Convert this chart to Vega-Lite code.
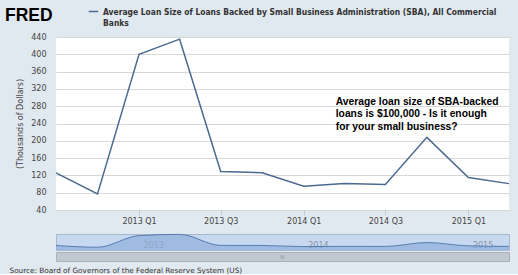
{
  "$schema": "https://vega.github.io/schema/vega-lite/v6.json",
  "background": "#e1e9f0",
  "padding": {"left": 5, "top": 6, "right": 8, "bottom": 0},
  "datasets": {
    "loans": [
      {"date": "2012-07-01", "value": 126},
      {"date": "2012-10-01", "value": 77},
      {"date": "2013-01-01", "value": 400},
      {"date": "2013-04-01", "value": 435},
      {"date": "2013-07-01", "value": 129},
      {"date": "2013-10-01", "value": 126},
      {"date": "2014-01-01", "value": 95},
      {"date": "2014-04-01", "value": 101},
      {"date": "2014-07-01", "value": 99},
      {"date": "2014-10-01", "value": 208},
      {"date": "2015-01-01", "value": 115},
      {"date": "2015-04-01", "value": 101}
    ],
    "note": [
      {"date": "2014-03-13", "value": 302, "text": "Average loan size of SBA-backed\nloans is $100,000 - Is it enough\nfor your small business?"}
    ],
    "bar": [{"t": "III"}]
  },
  "config": {
    "view": {"stroke": null},
    "style": {"guide-label": {"lineHeight": 11}},
    "axis": {"labelFont": "DejaVu Sans", "labelFontSize": 8, "labelColor": "#444", "titleFont": "DejaVu Sans", "titleFontWeight": "normal", "titleColor": "#444"}
  },
  "spacing": 6,
  "vconcat": [
    {
      "width": 453,
      "height": 173,
      "view": {"fill": "#ffffff", "stroke": null},
      "layer": [
        {
          "data": {"name": "loans"},
          "mark": {"type": "line", "strokeWidth": 1.5},
          "encoding": {
            "x": {
              "field": "date", "type": "temporal",
              "scale": {"type": "utc", "domain": [{"year": 2012, "month": 7, "date": 1, "utc": true}, {"year": 2015, "month": 4, "date": 1, "utc": true}], "nice": false},
              "axis": {
                "title": null, "grid": false, "domain": false, "ticks": true, "tickSize": 5, "tickColor": "#c8c8c8",
                "labelPadding": 2, "labelOverlap": false, "tickCount": 12,
                "values": [{"year": 2013, "month": 1, "date": 1, "utc": true}, {"year": 2013, "month": 7, "date": 1, "utc": true}, {"year": 2014, "month": 1, "date": 1, "utc": true}, {"year": 2014, "month": 7, "date": 1, "utc": true}, {"year": 2015, "month": 1, "date": 1, "utc": true}],
                "labelExpr": "utcFormat(datum.value, '%Y') + ' Q' + (floor(utcmonth(datum.value) / 3) + 1)"
              }
            },
            "y": {
              "field": "value", "type": "quantitative",
              "scale": {"domain": [40, 440], "nice": false},
              "axis": {
                "title": "(Thousands of Dollars)", "titleFontSize": 8, "titlePadding": 6,
                "values": [40, 80, 120, 160, 200, 240, 280, 320, 360, 400, 440],
                "tickCount": 12, "labelOverlap": false, "labelFlush": false,
                "domain": false, "ticks": false, "labelPadding": 10, "gridColor": "#d8d8d8"
              }
            },
            "color": {
              "datum": "Average Loan Size of Loans Backed by Small Business Administration (SBA), All Commercial Banks",
              "scale": {"range": ["#4a6a90"]},
              "legend": {
                "orient": "none", "legendX": -51, "legendY": -31,
                "title": "FRED", "titleOrient": "left", "titleFont": "Liberation Sans", "titleFontSize": 17.5, "titleFontWeight": 900, "titleColor": "#000000", "titlePadding": 35,
                "symbolType": "stroke", "symbolStrokeWidth": 1.5, "symbolSize": 90,
                "labelFont": "DejaVu Sans Condensed", "labelFontWeight": "bold", "labelFontSize": 8.45, "labelColor": "#333333", "labelLimit": 0,
                "labelExpr": "['Average Loan Size of Loans Backed by Small Business Administration (SBA), All Commercial', 'Banks']"
              }
            }
          }
        },
        {
          "data": {"name": "note"},
          "mark": {"type": "text", "align": "left", "baseline": "top", "lineBreak": "\n", "font": "Liberation Sans", "fontWeight": "bold", "fontSize": 10.3, "lineHeight": 12.5, "color": "#000000"},
          "encoding": {
            "x": {"field": "date", "type": "temporal"},
            "y": {"field": "value", "type": "quantitative"},
            "text": {"field": "text"}
          }
        }
      ]
    },
    {
      "spacing": 0,
      "title": {"text": "Source: Board of Governors of the Federal Reserve System (US)", "orient": "bottom", "anchor": "start", "dx": -44, "offset": 5, "font": "DejaVu Sans", "fontSize": 7.3, "fontWeight": "normal", "color": "#333333"},
      "vconcat": [
        {
          "width": 453,
          "height": 16,
          "view": {"fill": "#c6d9f0", "stroke": "#a9b9cc"},
          "data": {"name": "loans"},
          "mark": {"type": "area", "interpolate": "monotone", "color": "#8eaedb", "line": {"color": "#5a7db0", "strokeWidth": 1}},
          "encoding": {
            "x": {
              "field": "date", "type": "temporal",
              "scale": {"type": "utc", "domain": [{"year": 2012, "month": 7, "date": 1, "utc": true}, {"year": 2015, "month": 4, "date": 1, "utc": true}], "nice": false},
              "axis": {
                "title": null, "grid": false, "domain": false, "ticks": false, "tickCount": 12,
                "values": [{"year": 2013, "month": 1, "date": 1, "utc": true}, {"year": 2014, "month": 1, "date": 1, "utc": true}, {"year": 2015, "month": 1, "date": 1, "utc": true}],
                "labelExpr": "utcFormat(datum.value, '%Y')",
                "labelAlign": "left", "labelOffset": 4, "labelBaseline": "bottom", "labelPadding": -1, "labelColor": "#8a94a0", "labelFontSize": 8
              }
            },
            "y": {"field": "value", "type": "quantitative", "scale": {"domain": [0, 445], "nice": false}, "axis": null}
          }
        },
        {
          "width": 453,
          "height": 9,
          "view": {"fill": "#c2c8d0", "stroke": "#a9b1ba"},
          "data": {"name": "bar"},
          "mark": {"type": "text", "fontSize": 5, "color": "#8a8f96"},
          "encoding": {"text": {"field": "t"}}
        }
      ]
    }
  ]
}
